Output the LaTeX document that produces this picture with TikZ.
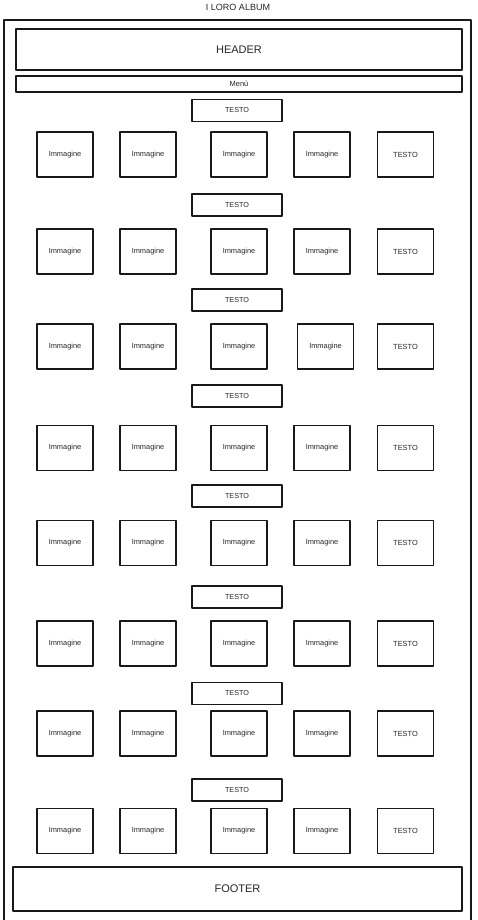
\documentclass[tikz,border=0pt]{standalone}
\usepackage{fontspec}
\setmainfont{Liberation Sans}
\begin{document}
\begin{tikzpicture}[x=1pt,y=-1pt,
  ink/.style={draw=black!90, line width=1.3pt, line join=round},
  bar/.style={ink, inner sep=0pt, anchor=center, text=black!85},
  imgbox/.style={bar, minimum width=56pt, minimum height=45pt, font=\fontsize{7.4}{8}\selectfont},
  txtbar/.style={bar, minimum width=90pt, minimum height=22pt, font=\fontsize{7.2}{8}\selectfont}]
\useasboundingbox (0,0) rectangle (477,920);
% outer frame (open at the bottom edge)
\draw[ink] (4,920) -- (4,20) -- (471,20) -- (471,920);
\node[font=\fontsize{9}{10}\selectfont, text=black!85] (title) at (238,7) {I LORO ALBUM};
\node[bar, minimum width=446pt, minimum height=41pt, font=\fontsize{11}{12}\selectfont] (header) at (239,49.5) {HEADER};
\node[bar, minimum width=446pt, minimum height=16pt, font=\fontsize{7.5}{8}\selectfont] (menu) at (239,84) {Menù};
\node[bar, minimum width=449pt, minimum height=44pt, font=\fontsize{11}{12}\selectfont] (footer) at (237.5,889) {FOOTER};
\foreach \r/\ty/\ry/\cf in {1/110.5/154.5/322, 2/205/251.5/322, 3/300/346.5/325.5, 4/396/448/322, 5/496/543/322, 6/597/643.5/322, 7/693.5/733.5/322, 8/790/831/322}{
  \node[txtbar] (t\r) at (237,\ty) {TESTO};
  \node[imgbox] (r\r c1) at (65,\ry) {Immagine};
  \node[imgbox] (r\r c2) at (148,\ry) {Immagine};
  \node[imgbox] (r\r c3) at (239,\ry) {Immagine};
  \node[imgbox] (r\r c4) at (\cf,\ry) {Immagine};
  \node[imgbox] (r\r c5) at (405.5,\ry) {TESTO};
}
\end{tikzpicture}
\end{document}
